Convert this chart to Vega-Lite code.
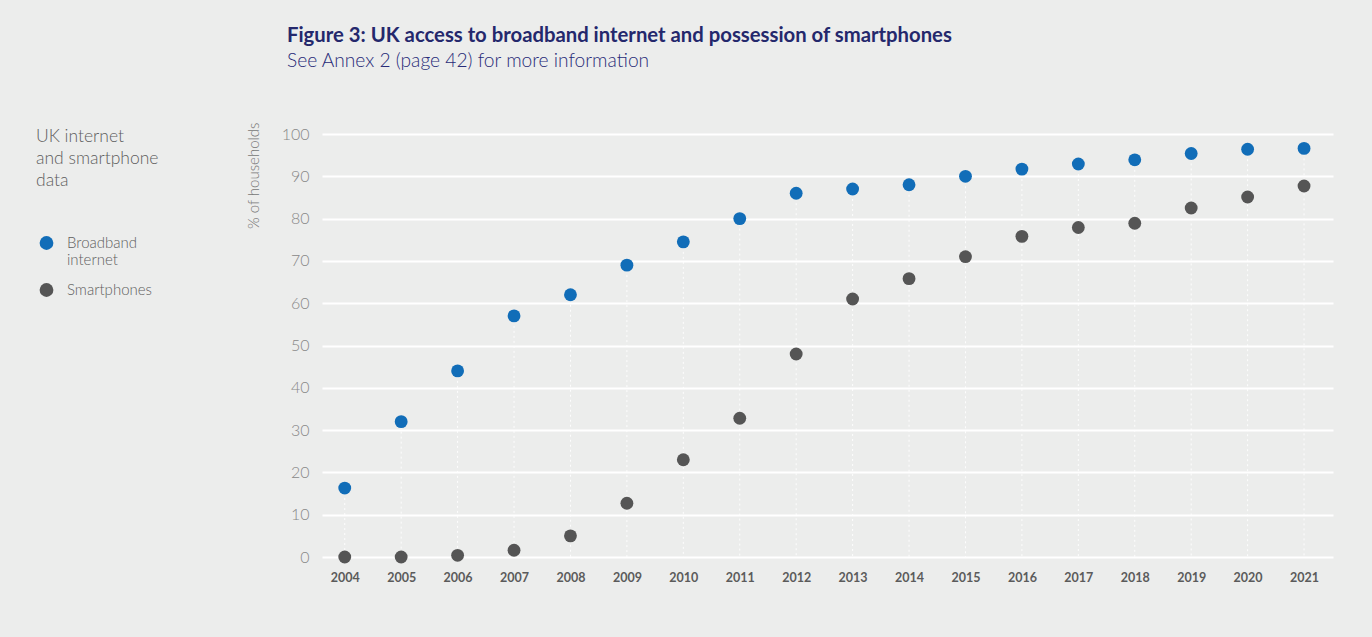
{
  "$schema": "https://vega.github.io/schema/vega-lite/v6.json",
  "autosize": {"type": "none"},
  "width": 1011,
  "height": 423,
  "padding": {"left": 322, "top": 134, "right": 39, "bottom": 80},
  "background": "#ecedec",
  "title": {
    "text": "Figure 3: UK access to broadband internet and possession of smartphones",
    "subtitle": "See Annex 2 (page 42) for more information",
    "anchor": "start",
    "frame": "group",
    "dx": -35,
    "font": "Lato",
    "fontSize": 20.3,
    "fontWeight": "bold",
    "color": "#24286c",
    "subtitleFont": "Lato",
    "subtitleFontSize": 19.2,
    "subtitleFontWeight": 300,
    "subtitleColor": "#282b78",
    "subtitlePadding": 6,
    "offset": 51
  },
  "config": {
    "view": {"stroke": null},
    "font": "Lato"
  },
  "data": {
    "values": [
      {"year": "2004", "series": "Broadband internet", "value": 16.3},
      {"year": "2005", "series": "Broadband internet", "value": 32},
      {"year": "2006", "series": "Broadband internet", "value": 44},
      {"year": "2007", "series": "Broadband internet", "value": 57},
      {"year": "2008", "series": "Broadband internet", "value": 62},
      {"year": "2009", "series": "Broadband internet", "value": 69},
      {"year": "2010", "series": "Broadband internet", "value": 74.5},
      {"year": "2011", "series": "Broadband internet", "value": 80},
      {"year": "2012", "series": "Broadband internet", "value": 86},
      {"year": "2013", "series": "Broadband internet", "value": 87},
      {"year": "2014", "series": "Broadband internet", "value": 88},
      {"year": "2015", "series": "Broadband internet", "value": 90},
      {"year": "2016", "series": "Broadband internet", "value": 91.7},
      {"year": "2017", "series": "Broadband internet", "value": 92.9},
      {"year": "2018", "series": "Broadband internet", "value": 93.9},
      {"year": "2019", "series": "Broadband internet", "value": 95.4},
      {"year": "2020", "series": "Broadband internet", "value": 96.4},
      {"year": "2021", "series": "Broadband internet", "value": 96.6},
      {"year": "2004", "series": "Smartphones", "value": 0},
      {"year": "2005", "series": "Smartphones", "value": 0},
      {"year": "2006", "series": "Smartphones", "value": 0.4},
      {"year": "2007", "series": "Smartphones", "value": 1.6},
      {"year": "2008", "series": "Smartphones", "value": 5},
      {"year": "2009", "series": "Smartphones", "value": 12.7},
      {"year": "2010", "series": "Smartphones", "value": 23},
      {"year": "2011", "series": "Smartphones", "value": 32.8},
      {"year": "2012", "series": "Smartphones", "value": 48},
      {"year": "2013", "series": "Smartphones", "value": 61},
      {"year": "2014", "series": "Smartphones", "value": 65.8},
      {"year": "2015", "series": "Smartphones", "value": 71},
      {"year": "2016", "series": "Smartphones", "value": 75.8},
      {"year": "2017", "series": "Smartphones", "value": 77.9},
      {"year": "2018", "series": "Smartphones", "value": 78.9},
      {"year": "2019", "series": "Smartphones", "value": 82.5},
      {"year": "2020", "series": "Smartphones", "value": 85.1},
      {"year": "2021", "series": "Smartphones", "value": 87.7}
    ]
  },
  "encoding": {
    "x": {
      "field": "year",
      "type": "ordinal",
      "scale": {"type": "point", "padding": 0.458, "align": 0.44},
      "axis": {
        "title": null,
        "labelAngle": 0,
        "domain": false,
        "ticks": false,
        "grid": false,
        "labelFont": "Lato",
        "labelFontSize": 12.5,
        "labelFontWeight": "bold",
        "labelColor": "#5b5b5b",
        "labelPadding": 14
      }
    }
  },
  "layer": [
    {
      "transform": [{"filter": "datum.series == 'Broadband internet'"}],
      "mark": {"type": "rule", "color": "#ffffff", "strokeDash": [2, 3], "strokeWidth": 1, "opacity": 0.9},
      "encoding": {
        "y": {"field": "value", "type": "quantitative"},
        "y2": {"datum": 0}
      }
    },
    {
      "mark": {"type": "circle", "opacity": 1, "size": 165},
      "encoding": {
        "y": {
          "field": "value",
          "type": "quantitative",
          "scale": {"domain": [0, 100], "nice": false},
          "axis": {
            "title": "% of households",
            "titleFont": "Lato",
            "titleFontSize": 15,
            "titleFontWeight": 300,
            "titleColor": "#777777",
            "titleAngle": -90,
            "titleAlign": "right",
            "titleBaseline": "middle",
            "titleX": -69,
            "titleY": -12,
            "values": [0, 10, 20, 30, 40, 50, 60, 70, 80, 90, 100],
            "domain": false,
            "ticks": false,
            "grid": true,
            "gridColor": "#ffffff",
            "gridWidth": 2,
            "labelFont": "Lato",
            "labelFontSize": 16,
            "labelFontWeight": 300,
            "labelColor": "#888888",
            "labelPadding": 13
          }
        },
        "color": {
          "field": "series",
          "type": "nominal",
          "scale": {"domain": ["Broadband internet", "Smartphones"], "range": ["#116db8", "#555555"]},
          "legend": {
            "title": ["UK internet", "and smartphone", "data"],
            "orient": "none",
            "legendX": -286,
            "legendY": -6,
            "padding": 0,
            "titleFont": "Lato",
            "titleFontSize": 17.5,
            "titleFontWeight": 300,
            "titleColor": "#5e5e5e",
            "titleLineHeight": 22,
            "titlePadding": 46,
            "labelFont": "Lato",
            "labelFontSize": 15,
            "labelFontWeight": 300,
            "labelColor": "#5e5e5e",
            "labelLineHeight": 17,
            "labelOffset": 13,
            "labelExpr": "split(datum.label, ' ')",
            "symbolType": "circle",
            "symbolSize": 190,
            "symbolStrokeWidth": 0,
            "symbolOpacity": 1,
            "symbolOffset": 3,
            "rowPadding": 14
          }
        }
      }
    }
  ]
}
